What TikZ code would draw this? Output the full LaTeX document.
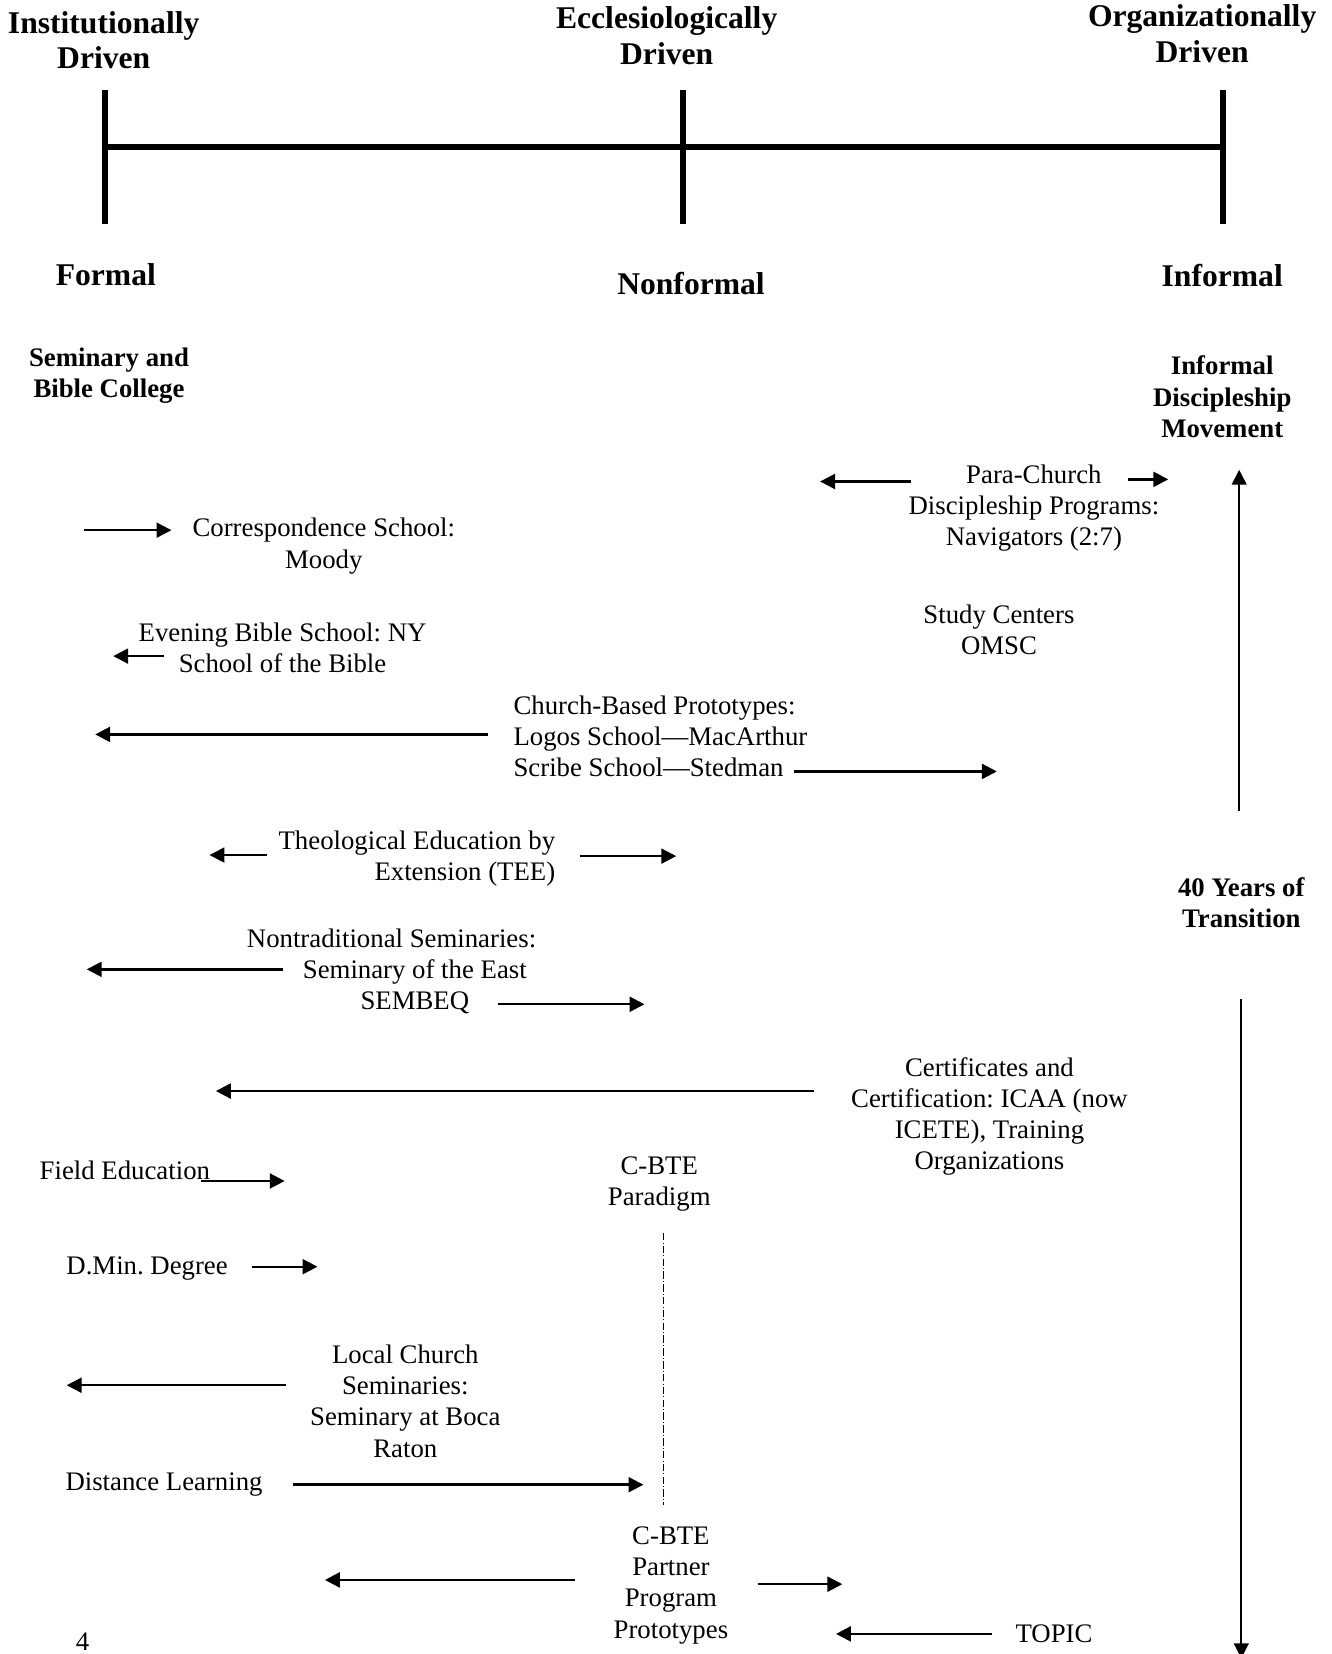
\documentclass[tikz,border=0pt]{standalone}
\usepackage{fontspec}
\setmainfont{Liberation Serif}
\usetikzlibrary{arrows.meta}

\begin{document}
\begin{tikzpicture}[x=0.02cm, y=-0.02cm, line join=round, >={Triangle[length=8pt,width=8pt]},
	txt/.style={font=\frenchspacing\fontsize{14.4}{16.8}\selectfont, align=center, inner sep=0pt},
	head/.style={font=\bfseries\fontsize{17}{19.3}\selectfont, align=center, inner sep=0pt},
	bold/.style={font=\bfseries\fontsize{14.4}{16.8}\selectfont, align=center, inner sep=0pt},
	arr/.style={->, line width=1.3pt},
	long/.style={->, line width=0.9pt}]
	\useasboundingbox (0,0) rectangle (1258,1563);
	% the axis
	\coordinate (F) at (99,139); \coordinate (N) at (645,139); \coordinate (I) at (1156,139);
	\draw[line width=3.2pt] (F)--(I);
	\foreach \p in {F,N,I}{
		\draw[line width=3.2pt] (\p) ++(0,-54) -- ++(0,127);
	}
	\node[head] (inst) at (98,38) {Institutionally\\Driven};
	\node[head] (eccl) at (630,34) {Ecclesiologically\\Driven};
	\node[head] (org) at (1136,32) {Organizationally\\Driven};
	\node[head] (formal) at (100,260) {Formal};
	\node[head] (nonformal) at (653,268) {Nonformal};
	\node[head] (informal) at (1155,260) {Informal};
	\node[bold] (sem) at (103,355) {Seminary and\\Bible College};
	\node[bold] (idm) at (1155,375) {Informal\\Discipleship\\Movement};
	\node[bold] (forty) at (1173,853) {40 Years of\\Transition};
	% the programs
	\node[txt] (para) at (977,480) {Para-Church\\Discipleship Programs:\\Navigators (2:7)};
	\node[txt] (corr) at (306,516) {Correspondence School:\\Moody};
	\node[txt] (even) at (267,612) {Evening Bible School: NY\\School of the Bible};
	\node[txt] (study) at (944,595) {Study Centers\\OMSC};
	\node[txt, align=left, anchor=west] (cbp) at (485,696) {Church-Based Prototypes:\\Logos School---MacArthur\\Scribe School---Stedman};
	\node[txt, align=right, anchor=east] (tee) at (525,811) {Theological Education by\\Extension (TEE)};
	\node[txt] (ntrad) at (392,918) {Nontraditional Seminaries:\hspace*{0.88cm}\\Seminary of the East\\SEMBEQ};
	\node[txt] (cert) at (935,1055) {Certificates and\\Certification: ICAA (now\\ICETE), Training\\Organizations};
	\node[txt] (field) at (118,1106) {Field Education};
	\node[txt] (cbte) at (623,1119) {C-BTE\\Paradigm};
	\node[txt] (dmin) at (139,1199) {D.Min. Degree};
	\node[txt] (local) at (383,1324) {Local Church\\Seminaries:\\Seminary at Boca\\Raton};
	\node[txt] (dist) at (155,1403) {Distance Learning};
	\node[txt] (partner) at (634,1498) {C-BTE\\Partner\\Program\\Prototypes};
	\node[txt] (topic) at (996,1544) {TOPIC};
	\node[txt] (pg) at (78,1551) {4};
	% arrow ends
	\coordinate (para-l1) at (861,455); \coordinate (para-l2) at (775,455);
	\coordinate (para-r1) at (1066,453); \coordinate (para-r2) at (1104,453);
	\coordinate (corr-1) at (79,501); \coordinate (corr-2) at (162,501);
	\coordinate (even-1) at (155,620); \coordinate (even-2) at (107,620);
	\coordinate (cbp-l1) at (461,694); \coordinate (cbp-l2) at (90,694);
	\coordinate (cbp-r1) at (750,729); \coordinate (cbp-r2) at (942,729);
	\coordinate (tee-l1) at (252,808); \coordinate (tee-l2) at (198,808);
	\coordinate (tee-r1) at (548,809); \coordinate (tee-r2) at (639,809);
	\coordinate (ntrad-l1) at (267,916); \coordinate (ntrad-l2) at (82,916);
	\coordinate (ntrad-r1) at (471,949); \coordinate (ntrad-r2) at (609,949);
	\coordinate (cert-1) at (769,1031); \coordinate (cert-2) at (204,1031);
	\coordinate (field-1) at (190,1116); \coordinate (field-2) at (269,1116);
	\coordinate (dmin-1) at (238,1197); \coordinate (dmin-2) at (300,1197);
	\coordinate (local-1) at (270,1309); \coordinate (local-2) at (63,1309);
	\coordinate (dist-1) at (277,1403); \coordinate (dist-2) at (608,1403);
	\coordinate (partner-l1) at (543,1493); \coordinate (partner-l2) at (307,1493);
	\coordinate (partner-r1) at (716,1497); \coordinate (partner-r2) at (796,1497);
	\coordinate (topic-1) at (937,1544); \coordinate (topic-2) at (790,1544);
	\foreach \a in {para-l,para-r,cbp-l,cbp-r,tee-l,tee-r,ntrad-l,ntrad-r,partner-l,partner-r}{
		\draw[arr] (\a1)--(\a2);
	}
	\foreach \a in {corr,even,cert,field,dmin,local,dist,topic}{
		\draw[arr] (\a-1)--(\a-2);
	}
	% the 40 years
	\coordinate (up-1) at (1171,766); \coordinate (up-2) at (1171,444);
	\coordinate (dn-1) at (1173,944); \coordinate (dn-2) at (1173,1567);
	\draw[long] (up-1)--(up-2);
	\draw[long] (dn-1)--(dn-2);
	% paradigm line
	\coordinate (cbte-1) at (627,1165); \coordinate (cbte-2) at (627,1422);
	\draw[line width=0.5pt, dash pattern=on 4pt off 1.2pt on 0.5pt off 1.2pt] (cbte-1)--(cbte-2);
\end{tikzpicture}
\end{document}
